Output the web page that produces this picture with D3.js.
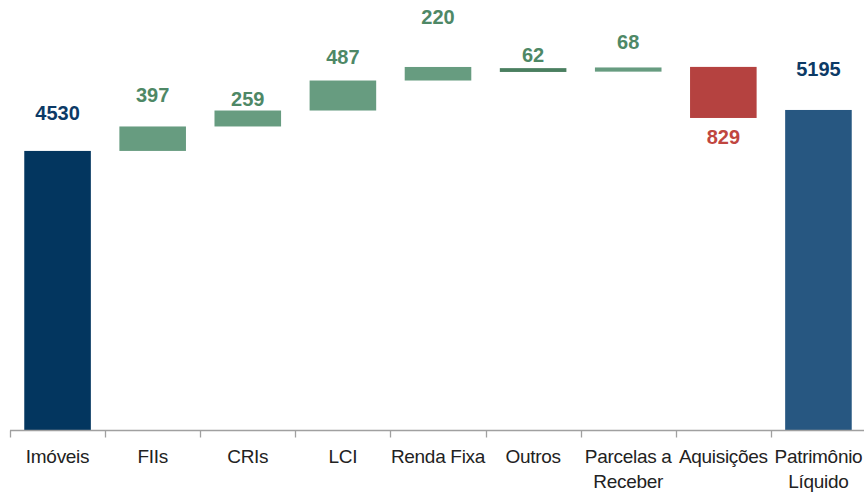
<!DOCTYPE html>
<html><head><meta charset="utf-8">
<script src="https://cdn.jsdelivr.net/npm/d3@7"></script>
<style>
html,body{margin:0;padding:0;background:#fff;}
svg{display:block;}
</style></head>
<body>
<svg id="chart" width="864" height="492"></svg>
<script>
// ---- data ----
const categories = ["Imóveis", "FIIs", "CRIs", "LCI", "Renda Fixa", "Outros", "Parcelas a|Receber", "Aquisições", "Patrimônio|Líquido"];
const values     = [4530, 397, 259, 487, 220, 62, 68, -829, 5195];
// level where each bar begins (as drawn in the reference)
const starts     = [0, 4530, 4927, 5186, 5673, 5812, 5817, 5894, 0];
const kinds      = ["total", "up", "up", "up", "up", "up2", "up", "down", "total2"];

// ---- styling (not data) ----
const fills = {total: "#03365f", total2: "#275781", up: "#679c80", up2: "#4a7f60", down: "#b54240"};
const labelFills = {total: "#0c3a66", total2: "#0c3a66", up: "#4e8866", up2: "#4e8866", down: "#c0463f"};
const labelGap = [31, 24, 5, 17, 43, 6, 18, 26, 34];

const svg = d3.select("#chart");
const x = d3.scaleBand().domain(categories).range([10, 866]).paddingInner(0.3).paddingOuter(0.15);
const y = d3.scaleLinear().domain([0, 6980]).range([430, 0]);

const rows = categories.map((c, i) => ({c, v: values[i], s: starts[i], k: kinds[i], i}));

svg.append("g").selectAll("rect").data(rows).join("rect")
  .attr("x", d => x(d.c))
  .attr("width", x.bandwidth())
  .attr("y", d => y(Math.max(d.s, d.s + d.v)))
  .attr("height", d => Math.abs(y(d.s) - y(d.s + d.v)))
  .attr("fill", d => fills[d.k]);

svg.append("g").selectAll("text").data(rows).join("text")
  .attr("x", d => x(d.c) + x.bandwidth() / 2)
  .attr("y", d => d.v < 0 ? y(d.s + d.v) + labelGap[d.i] : y(d.s + d.v) - labelGap[d.i])
  .attr("text-anchor", "middle")
  .attr("font-family", "Liberation Sans, Arial, sans-serif")
  .attr("font-weight", "bold")
  .attr("font-size", 20)
  .attr("fill", d => labelFills[d.k])
  .text(d => Math.abs(d.v));

// axis
const axisY = 430.5;
const gap = (x.step() - x.bandwidth()) / 2;
const ax = svg.append("g");
ax.append("line").attr("x1", 10).attr("x2", 866).attr("y1", axisY).attr("y2", axisY)
  .attr("stroke", "#a0a0a0").attr("stroke-width", 1.3);
const bounds = categories.map(c => x(c) - gap).concat([x(categories[categories.length - 1]) + x.bandwidth() + gap]);
ax.selectAll("line.t").data(bounds).join("line").attr("class", "t")
  .attr("x1", d => Math.round(d) + 0.5).attr("x2", d => Math.round(d) + 0.5)
  .attr("y1", axisY).attr("y2", axisY + 7)
  .attr("stroke", "#a0a0a0").attr("stroke-width", 1.3);

const lab = ax.selectAll("text").data(categories).join("text")
  .attr("x", c => x(c) + x.bandwidth() / 2)
  .attr("y", 463)
  .attr("text-anchor", "middle")
  .attr("font-family", "Liberation Sans, Arial, sans-serif")
  .attr("font-size", 19)
  .attr("letter-spacing", -0.3)
  .attr("fill", "#222");
lab.each(function(c) {
  const parts = c.split("|");
  d3.select(this).selectAll("tspan").data(parts).join("tspan")
    .attr("x", x(c) + x.bandwidth() / 2)
    .attr("dy", (p, j) => j === 0 ? 0 : 25)
    .text(p => p);
});
</script>
</body></html>
